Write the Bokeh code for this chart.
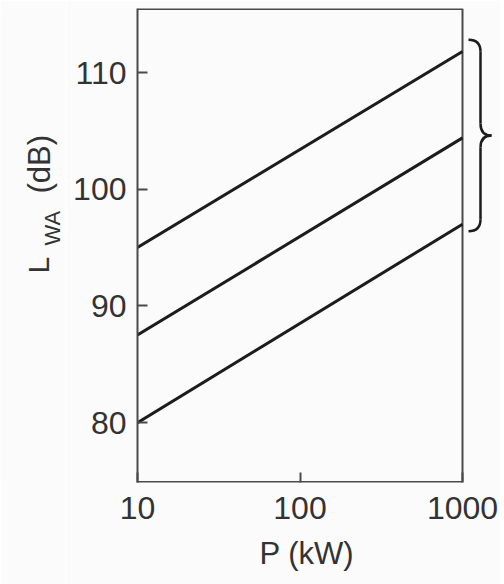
import math
from bokeh.plotting import figure
from bokeh.layouts import row
from bokeh.models import Range1d, FixedTicker, PrintfTickFormatter, Label, Title
from bokeh.embed import file_html
from bokeh.resources import INLINE

# ---- data ----
power_kw = [10, 1000]
lwa_low = [80.0, 97.0]
lwa_mid = [87.5, 104.4]
lwa_high = [95.0, 111.8]
x_ticks = [10, 100, 1000]
y_ticks = [80, 90, 100, 110]
x_label = "P (kW)"
y_label_main = "L"
y_label_sub = "WA"
y_label_unit = "(dB)"

# ---- layout constants (page pixels) ----
FONT = "Liberation Sans"
TXT = "#333333"
LINE = "#1c1c1c"
BORDER = "#4a4a4a"
BG = "#fbfbfb"
H = 584
LW = 66                    # strip holding the y title
MW = 434                   # main figure
FRAME_L, FRAME_T, FRAME_B = 137, 8, 482
frame_w = LW + MW - FRAME_L
px_per_decade = 162.5
px_per_db = 11.67

y0 = 110 - (FRAME_B - 72) / px_per_db
y1 = 110 + (72 - FRAME_T) / px_per_db
x0 = 10.0
x1 = 10 ** (1 + frame_w / px_per_decade)

def px_x(px):
    return 10 ** (1 + (px - FRAME_L) / px_per_decade)

# ---- main chart ----
p = figure(width=MW, height=H, x_axis_type="log",
           x_range=Range1d(x0, x1), y_range=Range1d(y0, y1),
           output_backend="svg", toolbar_location=None,
           min_border_left=FRAME_L - LW, min_border_right=0,
           min_border_top=FRAME_T, min_border_bottom=H - FRAME_B)
p.background_fill_color = BG
p.border_fill_color = BG
p.outline_line_color = None
p.xgrid.visible = False
p.ygrid.visible = False

for ax in (p.xaxis[0], p.yaxis[0]):
    ax.major_tick_in = 10
    ax.major_tick_out = 0
    ax.minor_tick_in = 0
    ax.minor_tick_out = 0
    ax.major_tick_line_color = BORDER
    ax.major_tick_line_width = 2
    ax.major_label_text_font = FONT
    ax.major_label_text_font_size = "32px"
    ax.major_label_text_color = TXT

p.xaxis.ticker = FixedTicker(ticks=x_ticks)
p.xaxis.formatter = PrintfTickFormatter(format="%d")
p.xaxis.axis_line_color = None
p.xaxis.major_label_standoff = 14
p.yaxis.ticker = FixedTicker(ticks=y_ticks)
p.yaxis.axis_line_color = BORDER
p.yaxis.axis_line_width = 2
p.yaxis.major_label_standoff = 11

# x title
p.add_layout(Title(text=x_label, align="left", offset=122, standoff=24,
                   text_font=FONT, text_font_size="31px", text_color=TXT,
                   text_font_style="normal"), "below")

# frame borders (top, right, bottom)
p.segment(x0=[x0, x_ticks[-1], x0], y0=[y1, y0, y0],
          x1=[x_ticks[-1], x_ticks[-1], x_ticks[-1]], y1=[y1, y1, y0],
          line_color=BORDER, line_width=[3, 2, 3])

# the three lines
for series in (lwa_low, lwa_mid, lwa_high):
    p.line(power_kw, series, line_color=LINE, line_width=3)

# brace right of the frame
b_hi = lwa_high[-1] + 1.0
b_lo = lwa_low[-1] - 0.6
b_mid = (b_hi + b_lo) / 2
xa, xb, xc = px_x(468), px_x(480), px_x(491)
r = 12 / px_per_db
p.quadratic(x0=[xa, xb, xc, xb], y0=[b_hi, b_mid + r, b_mid, b_lo + r],
            x1=[xb, xc, xb, xa], y1=[b_hi - r, b_mid, b_mid - r, b_lo],
            cx=[xb, xb, xb, xb], cy=[b_hi, b_mid, b_mid, b_lo],
            line_color=LINE, line_width=2.5)
p.segment(x0=[xb, xb], y0=[b_hi - r, b_mid - r], x1=[xb, xb], y1=[b_mid + r, b_lo + r],
          line_color=LINE, line_width=2.5)

# ---- strip with the y title (frame aligned with the main frame; y in page px) ----
s = figure(width=LW, height=H, x_range=Range1d(0, LW), y_range=Range1d(FRAME_B, FRAME_T),
           output_backend="svg", toolbar_location=None,
           x_axis_location=None, y_axis_location=None,
           min_border_left=0, min_border_right=0,
           min_border_top=FRAME_T, min_border_bottom=H - FRAME_B)
s.background_fill_color = BG
s.border_fill_color = BG
s.outline_line_color = None
s.xgrid.visible = False
s.ygrid.visible = False
ang = math.pi / 2
s.add_layout(Label(x=38, y=273, text=y_label_main, angle=ang,
                   text_align="left", text_baseline="alphabetic", text_font=FONT,
                   text_font_size="30px", text_color=TXT))
s.add_layout(Label(x=52, y=245, text=y_label_sub, angle=ang,
                   text_align="left", text_baseline="alphabetic", text_font=FONT,
                   text_font_size="22px", text_color=TXT))
s.add_layout(Label(x=39, y=193, text=y_label_unit, angle=ang,
                   text_align="left", text_baseline="alphabetic", text_font=FONT,
                   text_font_size="31px", text_color=TXT))

layout = row(s, p, spacing=0)
open("out.html", "w").write(file_html(layout, INLINE))
